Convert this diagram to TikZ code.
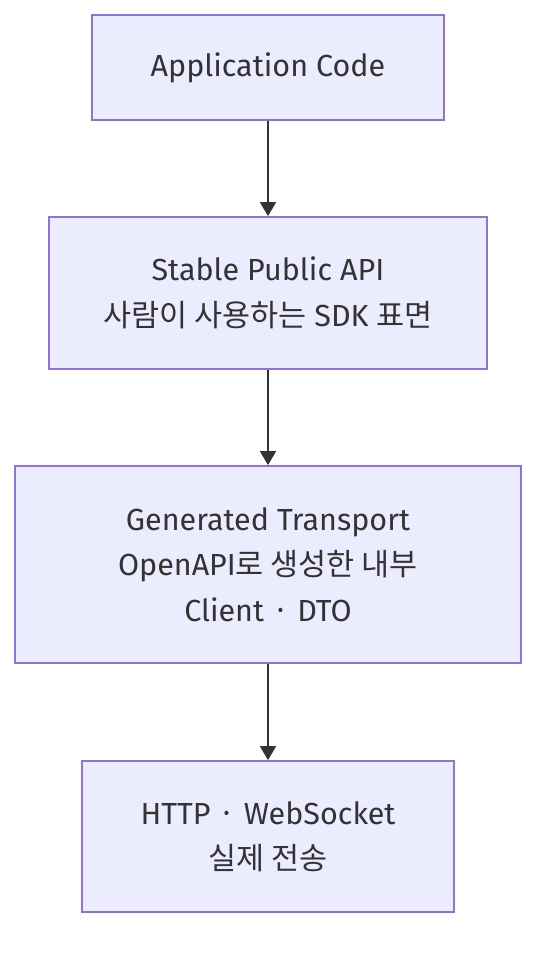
\documentclass[tikz,border=0pt]{standalone}
\usepackage{fontspec}
\setmainfont{Fira Sans}
\newfontfamily\kr{Noto Sans CJK KR}
\usetikzlibrary{arrows.meta}
\definecolor{boxfill}{HTML}{ECECFF}
\definecolor{boxline}{HTML}{9370DB}
\definecolor{txt}{HTML}{333333}
\tikzset{
  box/.style={draw=boxline, fill=boxfill, line width=1.8pt, rectangle, align=center,
    text=txt, font=\fontsize{30.5}{45.5}\selectfont, inner sep=0pt},
  conn/.style={draw=txt, line width=2pt, -{Triangle[width=16pt,length=14pt]}}
}
\begin{document}
\begin{tikzpicture}[x=1pt,y=-1pt]
\useasboundingbox (0,0) rectangle (552,956);
\node[box, minimum width=352pt, minimum height=105pt] (app) at (268,67.5) {Application Code};
\node[box, minimum width=438pt, minimum height=152pt] (api) at (268,293) {Stable Public API\\{\kr 사람이 사용하는} SDK {\kr 표면}};
\node[box, minimum width=506pt, minimum height=197pt] (gen) at (268,564.5) {Generated Transport\\OpenAPI{\kr 로 생성한 내부}\\Client {\kr ·} DTO};
\node[box, minimum width=372pt, minimum height=151pt] (http) at (268,836.5) {HTTP {\kr ·} WebSocket\\{\kr 실제 전송}};
\draw[conn] (app) -- (api);
\draw[conn] (api) -- (gen);
\draw[conn] (gen) -- (http);
\end{tikzpicture}
\end{document}
